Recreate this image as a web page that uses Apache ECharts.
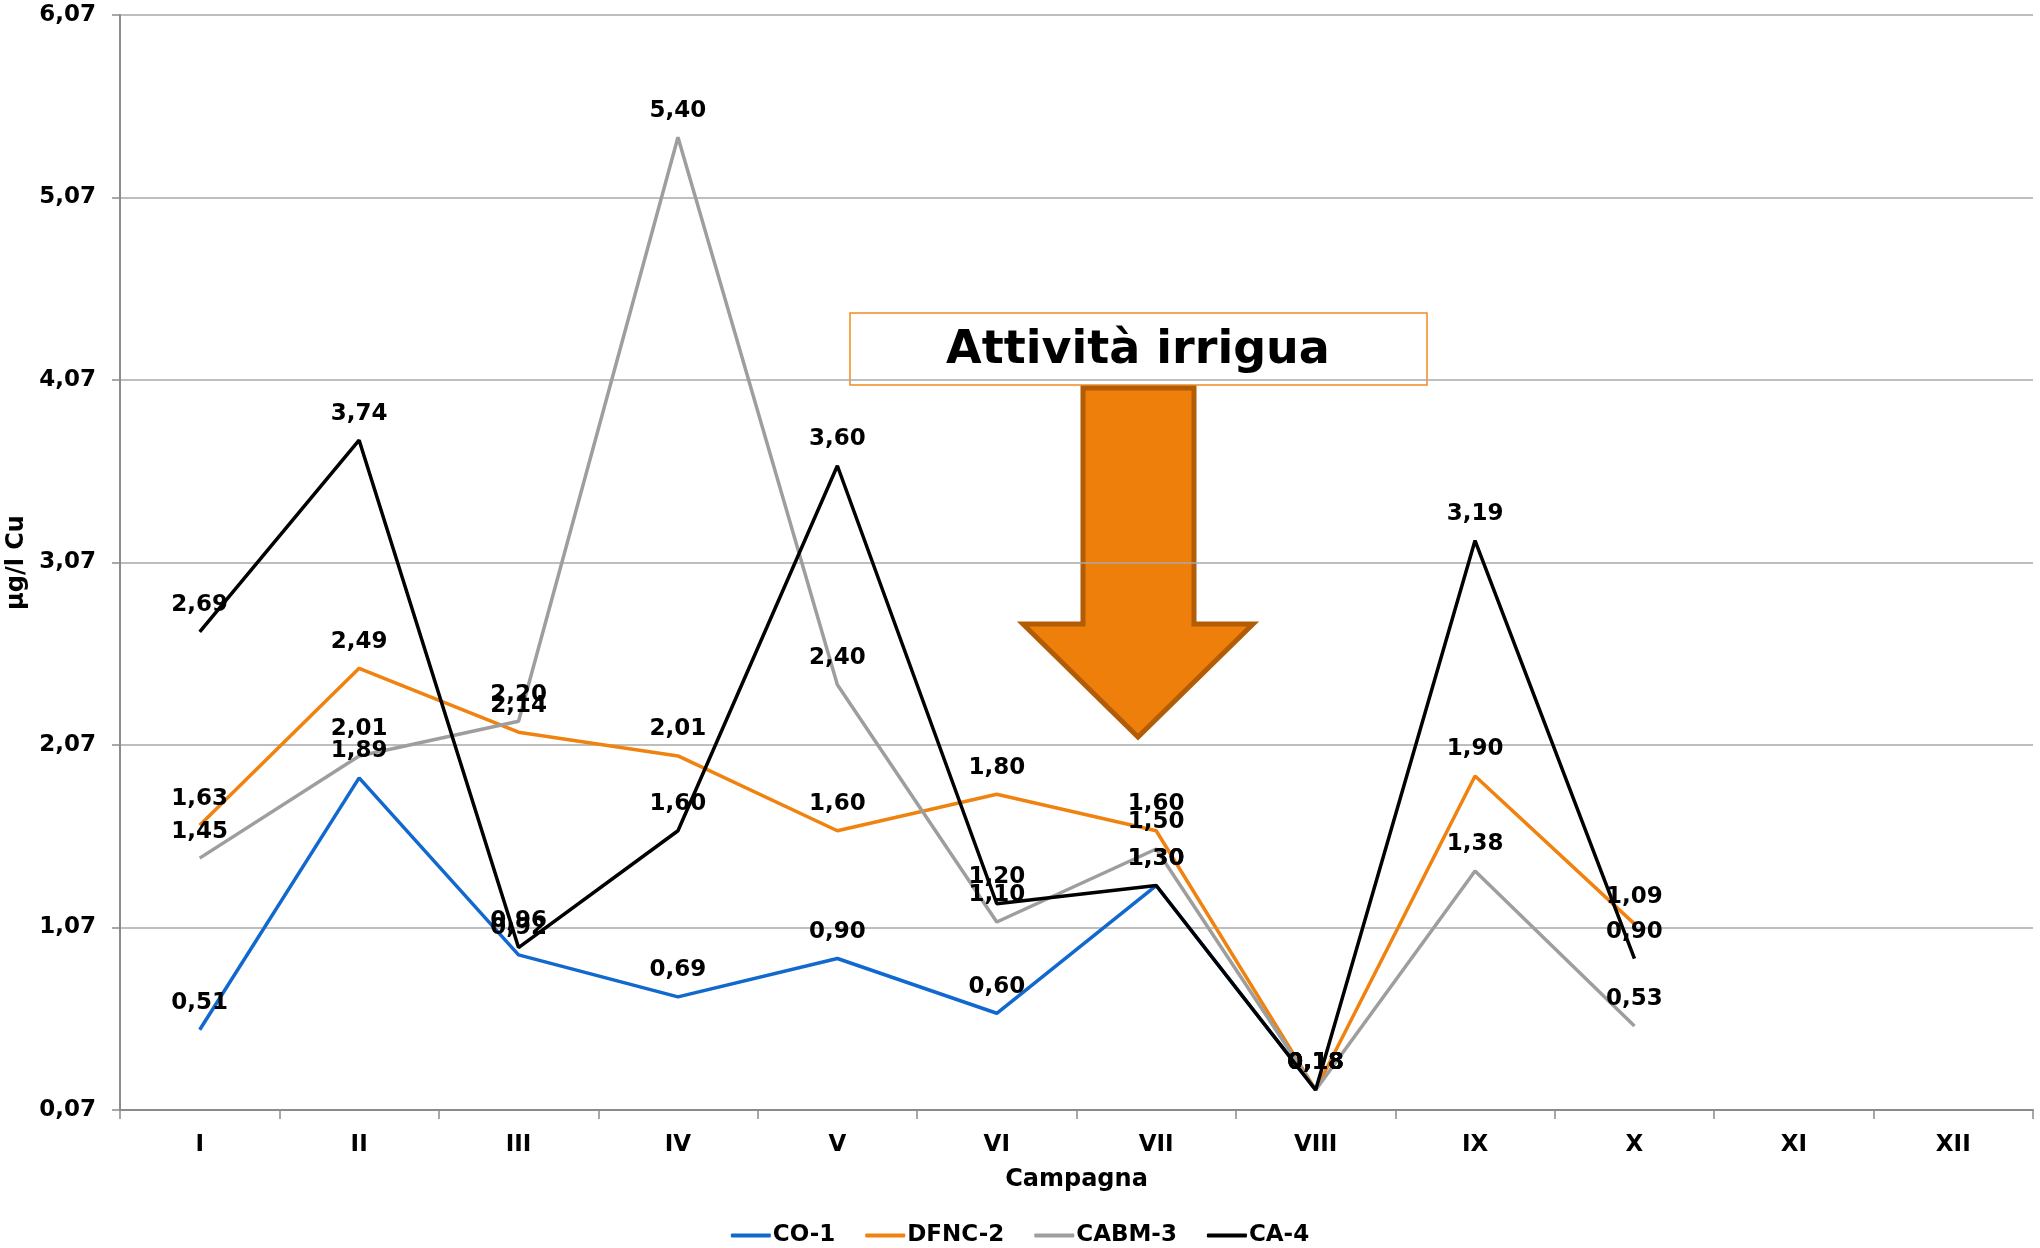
<!DOCTYPE html>
<html>
<head>
<meta charset="utf-8">
<title>Rame - µg/l Cu per campagna</title>
<script src="https://cdn.jsdelivr.net/npm/echarts@6/dist/echarts.min.js"></script>
<style>
  html, body { margin: 0; padding: 0; background: #ffffff; }
  #chart { width: 2040px; height: 1248px; }
</style>
</head>
<body>
<div id="chart"></div>
<script>
// Campagne di monitoraggio
const campagne = ['I', 'II', 'III', 'IV', 'V', 'VI', 'VII', 'VIII', 'IX', 'X', 'XI', 'XII'];

// Valori dell'asse y (µg/l Cu)
const yTicks = [0.07, 1.07, 2.07, 3.07, 4.07, 5.07, 6.07];

// Concentrazioni di rame per stazione
const co1   = [0.51, 1.89, 0.92, 0.69, 0.90, 0.60, 1.30, 0.18, null, null, null, null];
const dfnc2 = [1.63, 2.49, 2.14, 2.01, 1.60, 1.80, 1.60, 0.18, 1.90, 1.09, null, null];
const cabm3 = [1.45, 2.01, 2.20, 5.40, 2.40, 1.10, 1.50, 0.18, 1.38, 0.53, null, null];
const ca4   = [2.69, 3.74, 0.96, 1.60, 3.60, 1.20, 1.30, 0.18, 3.19, 0.90, null, null];

const stazioni = [
  { name: 'CO-1',   data: co1,   color: '#1168cf' },
  { name: 'DFNC-2', data: dfnc2, color: '#f0820f' },
  { name: 'CABM-3', data: cabm3, color: '#9e9e9e' },
  { name: 'CA-4',   data: ca4,   color: '#000000' }
];

const fmt = v => Number(v).toFixed(2).replace('.', ',');
const FONT = 'DejaVu Sans';

const chart = echarts.init(document.getElementById('chart'), null, { renderer: 'canvas' });

chart.setOption({
  animation: false,
  backgroundColor: '#ffffff',
  grid: { left: 120, right: 7, top: 15, bottom: 138, containLabel: false, outerBoundsMode: 'none' },
  legend: {
    top: 1219,
    left: 'center',
    itemWidth: 40,
    itemHeight: 4,
    itemGap: 30,
    icon: 'roundRect',
    textStyle: { fontFamily: FONT, fontWeight: 'bold', fontSize: 23, color: '#000', padding: [0, 0, 0, -3] },
    data: stazioni.map(s => s.name)
  },
  xAxis: {
    type: 'category',
    data: campagne,
    boundaryGap: true,
    name: 'Campagna',
    nameLocation: 'middle',
    nameGap: 58,
    nameTextStyle: { fontFamily: FONT, fontWeight: 'bold', fontSize: 24, color: '#000' },
    axisLine: { lineStyle: { color: '#8c8c8c', width: 2 } },
    axisTick: { show: true, length: 9, lineStyle: { color: '#8c8c8c', width: 1.5 } },
    axisLabel: { fontFamily: FONT, fontWeight: 'bold', fontSize: 23, color: '#000', margin: 24, interval: 0 },
    splitLine: { show: false }
  },
  yAxis: {
    type: 'value',
    min: yTicks[0],
    max: yTicks[yTicks.length - 1],
    name: 'µg/l Cu',
    nameLocation: 'middle',
    nameGap: 90,
    nameRotate: 90,
    nameTextStyle: { fontFamily: FONT, fontWeight: 'bold', fontSize: 24, color: '#000' },
    axisLine: { show: true, lineStyle: { color: '#8c8c8c', width: 2 } },
    axisTick: { show: true, length: 8, customValues: yTicks, lineStyle: { color: '#8c8c8c', width: 1.5 } },
    axisLabel: {
      customValues: yTicks,
      fontFamily: FONT, fontWeight: 'bold', fontSize: 23, color: '#000', margin: 24,
      formatter: v => fmt(v)
    },
    splitLine: { show: true, lineStyle: { color: '#a8a8a8', width: 1.5 } }
  },
  series: stazioni.map(s => ({
    name: s.name,
    type: 'line',
    data: s.data,
    color: s.color,
    symbol: 'circle',
    symbolSize: 0.1,
    showSymbol: true,
    connectNulls: false,
    lineStyle: { color: s.color, width: 3.5 },
    itemStyle: { color: s.color },
    label: {
      show: true,
      position: 'top',
      distance: 15,
      fontFamily: FONT,
      fontWeight: 'bold',
      fontSize: 23,
      color: '#000',
      formatter: p => (p.value == null ? '' : fmt(p.value))
    },
    emphasis: { disabled: true },
    z: 2
  })),
  graphic: [
    {
      type: 'group',
      z: 100,
      children: [
        {
          type: 'rect',
          shape: { x: 850, y: 313, width: 577, height: 72 },
          style: { fill: '#ffffff', stroke: '#f28a1e', lineWidth: 1.5 }
        },
        {
          type: 'text',
          x: 1138, y: 351,
          style: {
            text: 'Attività irrigua',
            fontFamily: FONT, fontWeight: 'bold', fontSize: 46,
            fill: '#000', align: 'center', verticalAlign: 'middle'
          }
        },
        {
          type: 'polygon',
          shape: {
            points: [[1083, 388], [1194, 388], [1194, 624], [1253, 624], [1138, 737], [1023, 624], [1083, 624]]
          },
          style: { fill: '#ee7f0b', stroke: '#b25c05', lineWidth: 5, lineJoin: 'miter' }
        }
      ]
    }
  ]
});
</script>
</body>
</html>
